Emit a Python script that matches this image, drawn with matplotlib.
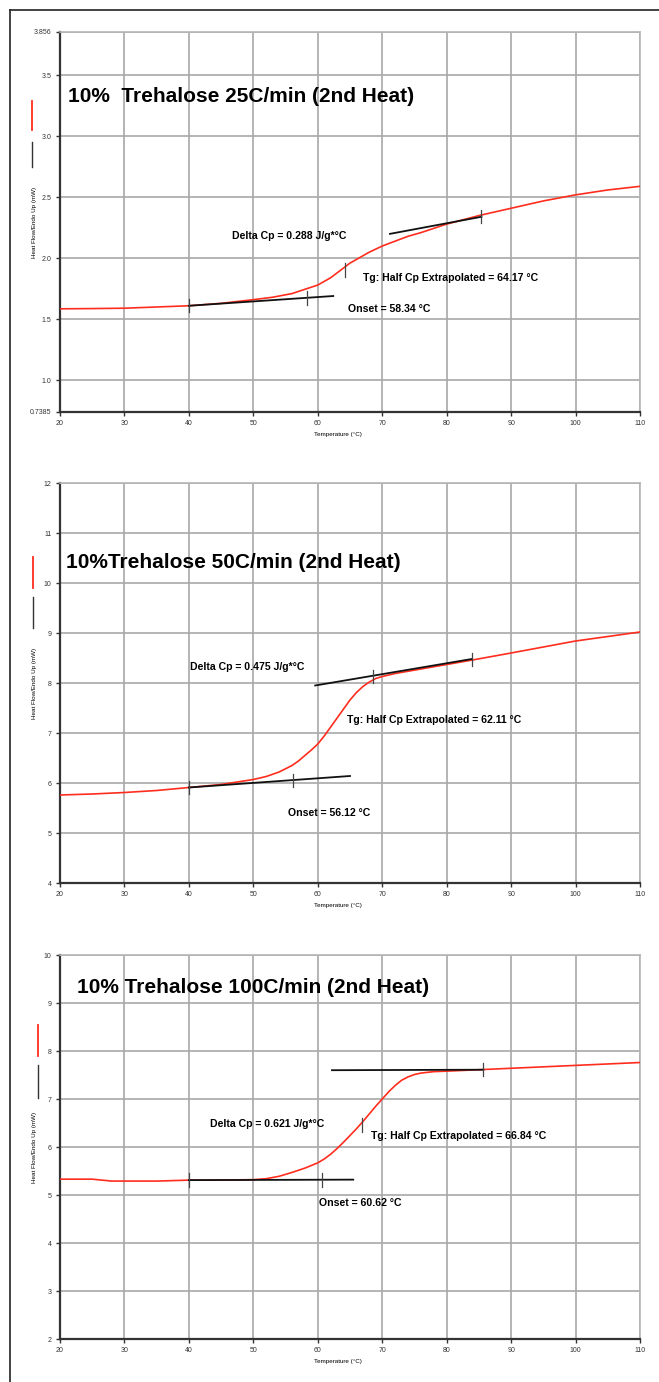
import matplotlib
matplotlib.use("Agg")
import matplotlib.pyplot as plt
from matplotlib.lines import Line2D

plt.rcParams['font.family'] = ['Liberation Sans', 'DejaVu Sans']

# Data -------------------------------------------------------------------------
titles = ["10%  Trehalose 25C/min (2nd Heat)",
          "10%Trehalose 50C/min (2nd Heat)",
          "10% Trehalose 100C/min (2nd Heat)"]

temp_25 = [20, 25, 30, 35, 40, 45, 50, 53, 56, 58, 60, 61, 62, 63, 64, 65, 66, 67,
           68, 69, 70, 72, 74, 76, 80, 85, 90, 95, 100, 105, 110]
hf_25 = [1.585, 1.587, 1.59, 1.60, 1.61, 1.63, 1.66, 1.68, 1.71, 1.745, 1.78, 1.81,
         1.84, 1.88, 1.92, 1.96, 1.99, 2.02, 2.05, 2.075, 2.10, 2.14, 2.18, 2.21,
         2.28, 2.35, 2.41, 2.47, 2.52, 2.56, 2.59]

temp_50 = [20, 25, 30, 35, 40, 45, 50, 52, 54, 56, 57, 58, 59, 60, 61, 62, 63, 64,
           65, 66, 67, 68, 69, 70, 72, 76, 80, 84, 90, 95, 100, 105, 110]
hf_50 = [5.76, 5.78, 5.81, 5.85, 5.91, 5.97, 6.07, 6.13, 6.22, 6.35, 6.44, 6.55,
         6.66, 6.78, 6.94, 7.12, 7.30, 7.48, 7.66, 7.81, 7.93, 8.02, 8.09, 8.13,
         8.19, 8.28, 8.37, 8.46, 8.60, 8.72, 8.84, 8.93, 9.02]

temp_100 = [20, 25, 28, 30, 35, 40, 45, 50, 52, 54, 56, 58, 60, 61, 62, 63, 64, 65,
            66, 67, 68, 69, 70, 71, 72, 73, 74, 75, 76, 78, 80, 85, 90, 95, 100,
            105, 110]
hf_100 = [5.33, 5.33, 5.29, 5.29, 5.29, 5.31, 5.31, 5.32, 5.34, 5.39, 5.47, 5.56,
          5.67, 5.75, 5.85, 5.97, 6.10, 6.24, 6.38, 6.53, 6.69, 6.85, 7.00, 7.15,
          7.28, 7.39, 7.46, 7.51, 7.54, 7.57, 7.58, 7.61, 7.64, 7.67, 7.70, 7.73,
          7.76]

# tangent lines: (T start, value start, T end, value end)
base_lines = [(40, 1.61, 62.4, 1.69), (40, 5.91, 65.0, 6.14), (40, 5.31, 65.5, 5.32)]
top_lines = [(71.2, 2.20, 85.4, 2.34), (59.6, 7.95, 83.9, 8.48), (62.2, 7.60, 85.7, 7.61)]
# small vertical markers: (T, value)
markers = [[(40, 1.61), (58.34, 1.675), (64.17, 1.905), (85.4, 2.34)],
           [(40, 5.91), (56.12, 6.06), (68.6, 8.13), (83.9, 8.48)],
           [(40, 5.31), (60.62, 5.315), (66.84, 6.46), (85.7, 7.61)]]

delta_cp = ["Delta Cp = 0.288 J/g*°C", "Delta Cp = 0.475 J/g*°C", "Delta Cp = 0.621 J/g*°C"]
tg_text = ["Tg: Half Cp Extrapolated = 64.17 °C", "Tg: Half Cp Extrapolated = 62.11 °C",
           "Tg: Half Cp Extrapolated = 66.84 °C"]
onset_text = ["Onset = 58.34 °C", "Onset = 56.12 °C", "Onset = 60.62 °C"]

ylims = [(0.7385, 3.856), (4, 12), (2, 10)]
yticks = [[0.7385, 1.0, 1.5, 2.0, 2.5, 3.0, 3.5, 3.856],
          list(range(4, 13)), list(range(2, 11))]
yticklabels = [["0.7385", "1.0", "1.5", "2.0", "2.5", "3.0", "3.5", "3.856"],
               [str(v) for v in range(4, 13)], [str(v) for v in range(2, 11)]]
xticks = list(range(20, 111, 10))

# Layout (pixels in a 659x1382 canvas) ----------------------------------------
W, H = 659, 1382
panels_px = [(32, 412), (483, 883), (955, 1339)]   # top, bottom of each axes
title_pos = [(21.2, 3.33), (20.9, 10.4), (22.6, 9.33)]
dcp_pos = [(46.7, 2.18), (40.2, 8.32), (43.3, 6.48)]
tg_pos = [(67.0, 1.84), (64.5, 7.26), (68.2, 6.23)]
onset_pos = [(64.7, 1.58), (55.4, 5.40), (60.2, 4.84)]
legend_px = [(32, 101, 130, 142, 167), (33, 557, 588, 597, 628), (38, 1025, 1056, 1065, 1098)]
tick_half = [0.055, 0.13, 0.14]

fig = plt.figure(figsize=(W / 100, H / 100), dpi=100)
red = '#ff2d1e'

curves = [(temp_25, hf_25), (temp_50, hf_50), (temp_100, hf_100)]

for i in range(3):
    top, bot = panels_px[i]
    ax = fig.add_axes([60 / W, 1 - bot / H, 580 / W, (bot - top) / H])
    ax.set_xlim(20, 110)
    ax.set_ylim(*ylims[i])
    ax.set_xticks(xticks)
    ax.set_yticks(yticks[i])
    ax.set_yticklabels(yticklabels[i])
    ax.grid(True, color='#a8a8a8', lw=1.2)
    ax.set_axisbelow(True)
    for s in ['left', 'bottom']:
        ax.spines[s].set_color('#333333')
        ax.spines[s].set_linewidth(1.6)
    for s in ['top', 'right']:
        ax.spines[s].set_color('#b5b5b5')
        ax.spines[s].set_linewidth(1.2)
    ax.tick_params(direction='out', length=3, width=1, colors='#333333',
                   labelsize=5, pad=3)

    T, hf = curves[i]
    ax.plot(T, hf, color=red, lw=1.2, zorder=3)

    for (x0, y0, x1, y1) in (base_lines[i], top_lines[i]):
        ax.plot([x0, x1], [y0, y1], color='#111111', lw=1.3, zorder=4)
    for (mx, my) in markers[i]:
        ax.plot([mx, mx], [my - tick_half[i], my + tick_half[i]],
                color='#444444', lw=0.9, zorder=5)

    ax.text(*title_pos[i], titles[i], fontsize=15, fontweight='bold',
            va='center', ha='left')
    ax.text(*dcp_pos[i], delta_cp[i], fontsize=7.6, fontweight='bold', va='center')
    ax.text(*tg_pos[i], tg_text[i], fontsize=7.6, fontweight='bold', va='center')
    ax.text(*onset_pos[i], onset_text[i], fontsize=7.6, fontweight='bold', va='center')

    ax.set_xlabel("Temperature (°C)", fontsize=4.5)
    ax.xaxis.set_label_coords(0.48, -20 / (bot - top))
    ax.set_ylabel("Heat Flow/Endo Up (mW)", fontsize=4.5)
    ax.yaxis.set_label_coords(-0.04, 0.5)

    # line samples shown beside the y label
    lx, r0, r1, k0, k1 = legend_px[i]
    fig.add_artist(Line2D([lx / W, lx / W], [1 - r0 / H, 1 - r1 / H], color=red, lw=1.3))
    fig.add_artist(Line2D([lx / W, lx / W], [1 - k0 / H, 1 - k1 / H], color='#333333', lw=1.0))

# page frame
fig.add_artist(Line2D([10 / W, 1], [1 - 10 / H, 1 - 10 / H], color='#222222', lw=1.2))
fig.add_artist(Line2D([10 / W, 10 / W], [1 - 10 / H, 0], color='#222222', lw=1.2))

fig.savefig("out.png", dpi=100)
